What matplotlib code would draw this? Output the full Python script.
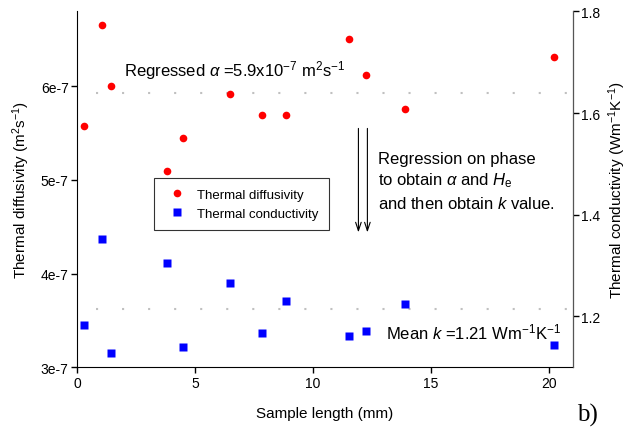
import matplotlib
matplotlib.use('Agg')
import matplotlib.pyplot as plt

# Data
length = [0.3, 1.06, 1.44, 3.8, 4.48, 6.47, 7.82, 8.84, 11.54, 12.26, 13.91, 20.2]
alpha = [5.58e-7, 6.65e-7, 6.00e-7, 5.10e-7, 5.45e-7, 5.92e-7, 5.69e-7,
         5.69e-7, 6.50e-7, 6.12e-7, 5.76e-7, 6.31e-7]
conductivity = [1.183, 1.352, 1.128, 1.305, 1.140, 1.266, 1.168, 1.230,
                1.162, 1.172, 1.225, 1.144]
alpha_mean = 5.93e-7
k_mean = 1.214
alpha_ticks = [3e-7, 4e-7, 5e-7, 6e-7]
alpha_ticklabels = ['3e-7', '4e-7', '5e-7', '6e-7']
k_ticks = [1.2, 1.4, 1.6, 1.8]
x_ticks = [0, 5, 10, 15, 20]

# Fonts
plt.rcParams['font.family'] = ['Liberation Sans', 'DejaVu Sans']
plt.rcParams['mathtext.fontset'] = 'custom'
plt.rcParams['mathtext.rm'] = 'Liberation Sans'
plt.rcParams['mathtext.it'] = 'Liberation Sans:italic'
plt.rcParams['mathtext.bf'] = 'Liberation Sans:bold'

fig = plt.figure(figsize=(6.26, 4.35), dpi=100)
ax = fig.add_axes([0.123, 0.1533, 0.792, 0.8184])
ax2 = ax.twinx()

# Mean lines
dots = (0, (1, 11.5))
ax.plot([0.8, 20.8], [alpha_mean, alpha_mean], color='#c0c0c0', lw=1.5,
        linestyle=dots)
ax2.plot([0.8, 20.8], [k_mean, k_mean], color='#c0c0c0', lw=1.5,
         linestyle=dots)

# Data
h1, = ax.plot(length, alpha, 'o', color='#ff0000', ms=5.5, mec='none',
              label='Thermal diffusivity')
h2, = ax2.plot(length, conductivity, 's', color='#0000ff', ms=6, mec='none',
               label='Thermal conductivity')

ax.set_xlim(0, 21)
ax.set_ylim(3e-7, 6.8e-7)
ax2.set_ylim(1.1, 1.8)
ax.set_xticks(x_ticks)
ax.set_yticks(alpha_ticks)
ax.set_yticklabels(alpha_ticklabels)
ax2.set_yticks(k_ticks)
ax2.set_yticklabels(['%.1f' % t for t in k_ticks])

for a in (ax, ax2):
    a.spines['top'].set_visible(False)
    a.tick_params(direction='out', length=4, width=1, labelsize=10, pad=2)
ax2.spines['right'].set_color('#555555')
ax2.spines['left'].set_visible(False)
ax2.spines['bottom'].set_visible(False)

ax.set_xlabel('Sample length (mm)', fontsize=11, labelpad=12)
ax.set_ylabel('Thermal diffusivity (m$^{2}$s$^{-1}$)', fontsize=11,
              labelpad=6)
ax2.set_ylabel('Thermal conductivity (Wm$^{-1}$K$^{-1}$)', fontsize=11,
               labelpad=4)

# Annotations
ax.text(1.99, 6.12e-7, r'Regressed $\alpha$ =5.9x10$^{-7}$ m$^{2}$s$^{-1}$',
        fontsize=12, va='baseline')
ax.text(13.1, 3.31e-7, r'Mean $k$ =1.21 Wm$^{-1}$K$^{-1}$',
        fontsize=12, va='baseline')
ax.text(12.77, 5.18e-7, 'Regression on phase', fontsize=12, va='baseline')
ax.text(12.77, 4.95e-7, r'to obtain $\alpha$ and $H_{\rm e}$', fontsize=12,
        va='baseline')
ax.text(12.77, 4.70e-7, r'and then obtain $k$ value.', fontsize=12,
        va='baseline')

for xa in (11.92, 12.3):
    ax.annotate('', xy=(xa, 4.44e-7), xytext=(xa, 5.55e-7),
                arrowprops=dict(arrowstyle='->,head_length=0.6,head_width=0.2',
                                lw=0.8, color='k', shrinkA=0, shrinkB=0))

leg = ax.legend(handles=[h1, h2], loc='lower left',
                bbox_to_anchor=(0.143, 0.366, 0.379, 0.152), mode='expand',
                fontsize=9.5, frameon=True, fancybox=False, borderpad=0.8,
                handletextpad=0.6, handlelength=1.8)
leg.get_frame().set_edgecolor('black')
leg.get_frame().set_linewidth(0.8)

fig.text(0.922, 0.03, 'b)', family='Liberation Serif', fontsize=18)

fig.savefig('out.png', dpi=100)
